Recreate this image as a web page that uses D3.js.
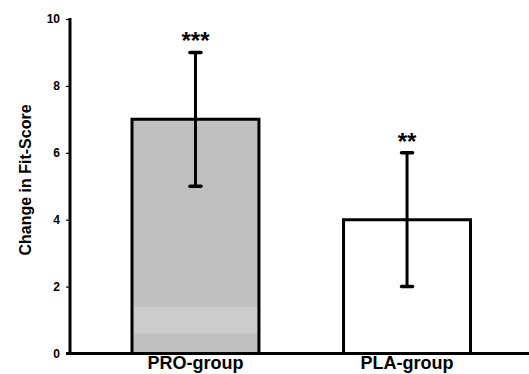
<!DOCTYPE html>
<html><head><meta charset="utf-8">
<script src="https://cdn.jsdelivr.net/npm/d3@7"></script>
<style>body{margin:0;background:#fff}svg{display:block}</style>
</head><body>
<svg id="c" width="529" height="374"></svg>
<script>
const categories = ["PRO-group", "PLA-group"];
const values = [7, 4];
const errLow = [5, 2];
const errHigh = [9, 6];
const stars = ["***", "**"];
const fills = ["#c0c0c0", "#ffffff"];
const yTicks = [0, 2, 4, 6, 8, 10];
const band = [0.6, 1.4]; // lighter shading band inside first bar

const svg = d3.select("#c");
const font = "Arial, 'Liberation Sans', sans-serif";
const y = d3.scaleLinear().domain([0, 10]).range([353.5, 19]);
const x = d3.scaleBand().domain(categories).range([132, 470.5]).paddingInner(0.4).paddingOuter(0);

// bars
categories.forEach((c, i) => {
  const x0 = x(c), w = x.bandwidth();
  svg.append("rect").attr("x", x0).attr("y", y(values[i])).attr("width", w)
    .attr("height", y(0) - y(values[i])).attr("fill", fills[i]);
  if (i === 0) {
    svg.append("rect").attr("x", x0).attr("y", y(band[1])).attr("width", w)
      .attr("height", y(band[0]) - y(band[1])).attr("fill", "#cccccc");
  }
  svg.append("path")
    .attr("d", `M${x0},${y(0)}V${y(values[i])}H${x0 + w}V${y(0)}`)
    .attr("fill", "none").attr("stroke", "#000").attr("stroke-width", 3);
  const cx = x0 + w / 2;
  svg.append("line").attr("x1", cx).attr("x2", cx).attr("y1", y(errLow[i])).attr("y2", y(errHigh[i]))
    .attr("stroke", "#000").attr("stroke-width", 3);
  [errLow[i], errHigh[i]].forEach(v => {
    svg.append("line").attr("x1", cx - 5.5).attr("x2", cx + 5.5).attr("y1", y(v)).attr("y2", y(v))
      .attr("stroke", "#000").attr("stroke-width", 3.5).attr("stroke-linecap", "round");
  });
  svg.append("text").attr("x", cx).attr("y", y(errHigh[i]) - 3).attr("text-anchor", "middle")
    .attr("font-family", font).attr("font-weight", "bold").attr("font-size", 24)
    .text(stars[i]);
  svg.append("text").attr("x", cx).attr("y", 369).attr("text-anchor", "middle")
    .attr("font-family", font).attr("font-weight", "bold").attr("font-size", 18)
    .text(c);
});

// y axis
const yAxis = svg.append("g").attr("transform", "translate(70,0)")
  .call(d3.axisLeft(y).tickValues(yTicks).tickFormat(d3.format("d")).tickSize(4).tickPadding(6));
yAxis.select(".domain").remove();
yAxis.selectAll(".tick line").attr("stroke", "#000").attr("stroke-width", 1.2);
yAxis.selectAll(".tick text").attr("font-family", font).attr("font-weight", "bold")
  .attr("font-size", 12).attr("fill", "#000");
svg.append("line").attr("x1", 70).attr("x2", 70).attr("y1", y(10) - 1).attr("y2", y(0) + 1.5)
  .attr("stroke", "#000").attr("stroke-width", 3);
svg.append("line").attr("x1", 66).attr("x2", 529).attr("y1", y(0)).attr("y2", y(0))
  .attr("stroke", "#000").attr("stroke-width", 3);

svg.append("text").attr("transform", `translate(25,180) rotate(-90)`)
  .attr("text-anchor", "middle").attr("dy", "0.35em")
  .attr("font-family", font).attr("font-weight", "bold").attr("font-size", 16)
  .text("Change in Fit-Score");
</script>
</body></html>
